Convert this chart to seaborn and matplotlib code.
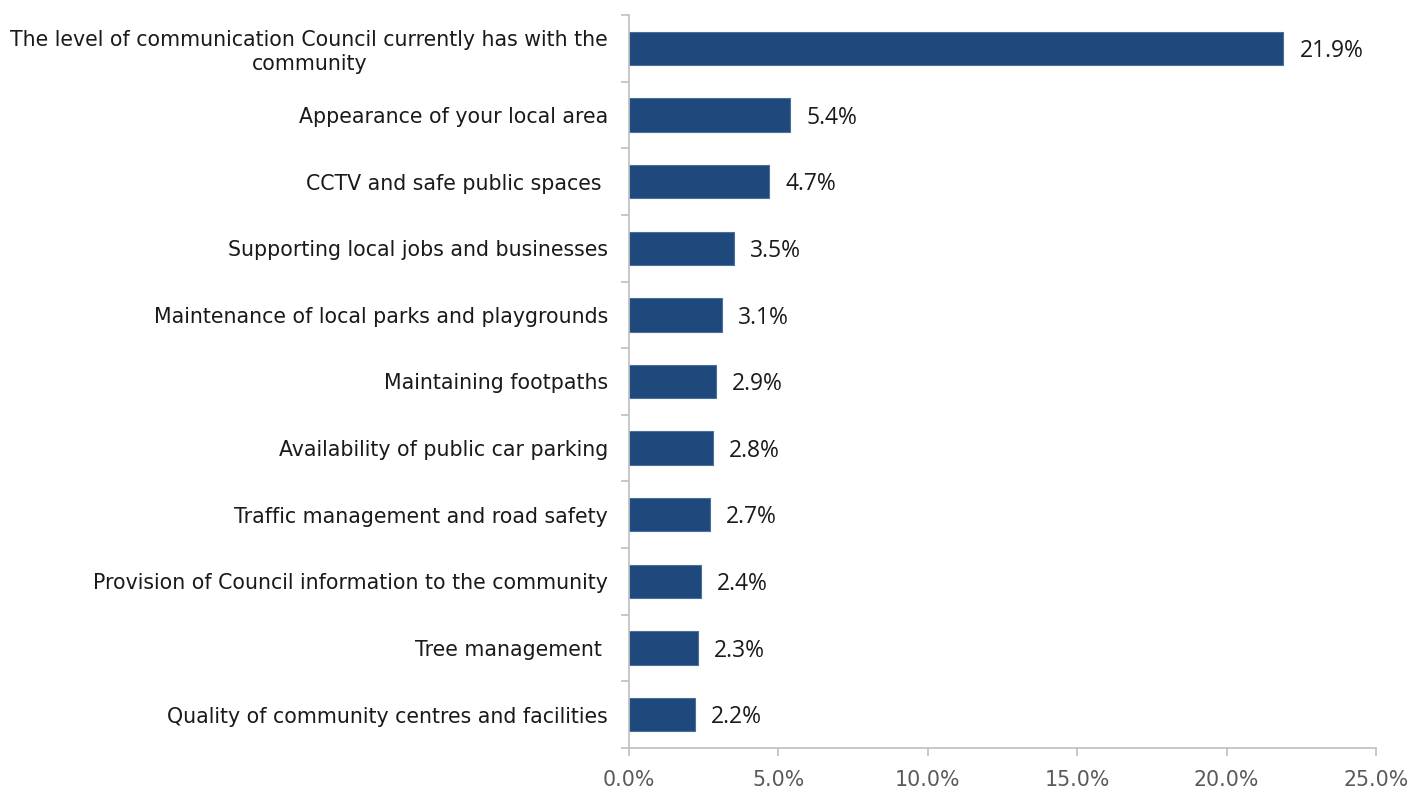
import matplotlib
matplotlib.use("Agg")
import matplotlib.pyplot as plt
import numpy as np
import pandas as pd
import seaborn as sns

categories = [
    "The level of communication Council currently has with the\ncommunity",
    "Appearance of your local area",
    "CCTV and safe public spaces ",
    "Supporting local jobs and businesses",
    "Maintenance of local parks and playgrounds",
    "Maintaining footpaths",
    "Availability of public car parking",
    "Traffic management and road safety",
    "Provision of Council information to the community",
    "Tree management ",
    "Quality of community centres and facilities",
]
values = [21.9, 5.4, 4.7, 3.5, 3.1, 2.9, 2.8, 2.7, 2.4, 2.3, 2.2]
x_ticks = [0, 5, 10, 15, 20, 25]

df = pd.DataFrame({"category": categories, "value": values})

sns.set_theme(style="white")
plt.rcParams["font.family"] = ["DejaVu Sans"]

fig = plt.figure(figsize=(14.13, 7.89), dpi=100)
ax = fig.add_axes([0.4452, 0.052, 0.9738 - 0.4452, 0.981 - 0.052])

bar_color = "#1f497d"
sns.barplot(data=df, x="value", y="category", orient="h", color=bar_color,
            width=0.5, ax=ax, edgecolor="#4a6f9c", linewidth=0.8, saturation=1)

for i, v in enumerate(values):
    ax.text(v + 0.55, i + 0.04, f"{v:.1f}%", va="center", ha="left",
            fontsize=16.5, color="#1a1a1a", family=["Open Sans", "DejaVu Sans"])

ax.set_xlim(0, 25)
ax.set_ylim(len(categories) - 0.5, -0.5)
ax.set_xticks(x_ticks)
ax.set_xticklabels([f"{t:.1f}%" for t in x_ticks], fontsize=14.8, color="#595959")
ax.set_xlabel("")
ax.set_ylabel("")

ax.tick_params(axis="y", which="major", length=0, pad=15, labelsize=14.8, labelcolor="#1a1a1a")
for lbl in ax.get_yticklabels():
    lbl.set_multialignment("center")
    lbl.set_linespacing(1.25)
ax.set_yticks(np.arange(-0.5, len(categories)), minor=True)
ax.tick_params(axis="y", which="minor", length=6, color="#bfbfbf", width=1.2, left=True)
ax.tick_params(axis="x", which="major", length=6, color="#bfbfbf", width=1.2, bottom=True, pad=10)

for side in ["top", "right"]:
    ax.spines[side].set_visible(False)
for side in ["left", "bottom"]:
    ax.spines[side].set_color("#bfbfbf")
    ax.spines[side].set_linewidth(1.2)

fig.savefig("out.png", dpi=100)
